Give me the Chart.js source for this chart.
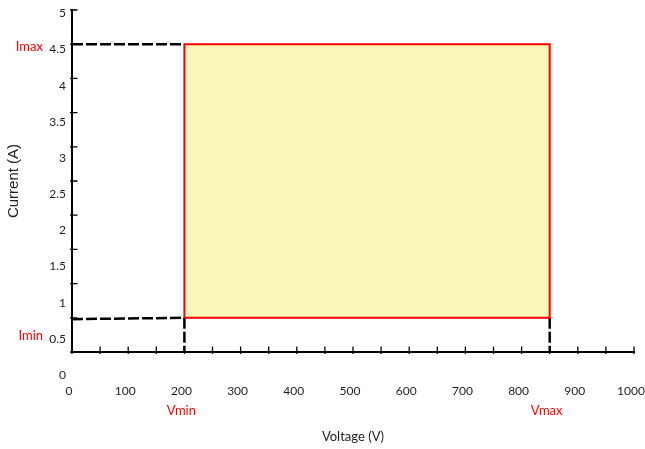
<!DOCTYPE html>
<html>
<head>
<meta charset="utf-8">
<script src="https://cdn.jsdelivr.net/npm/chart.js@4/dist/chart.umd.min.js"></script>
<style>
  html, body { margin: 0; padding: 0; background: #fff; }
</style>
</head>
<body>
<canvas id="c" width="645" height="449"></canvas>
<script>
// Axis tick labels
const voltTicks = [0, 100, 200, 300, 400, 500, 600, 700, 800, 900, 1000];
const currTicks = [0, 0.5, 1, 1.5, 2, 2.5, 3, 3.5, 4, 4.5, 5];

// Operating window limits
const voltage = [200, 850];      // Vmin, Vmax (V)
const current = [0.5, 4.5];      // Imin, Imax (A)
const iminGuide = [0.48, 0.5];   // Imin guide line at V = 0 and at Vmin
const voltNames = ['Vmin', 'Vmax'];
const currNames = ['Imin', 'Imax'];

const textColor = '#1f1f1f';
const limitRed = '#ff0000';
const dash = [11, 3];

// Tick marks crossing the axes plus the red limit labels
const limitMarks = {
  id: 'limitMarks',
  afterDraw(chart) {
    const { ctx, scales: { x, y, yLab } } = chart;
    ctx.save();
    ctx.strokeStyle = '#000';
    ctx.lineWidth = 1.3;
    ctx.beginPath();
    x.ticks.forEach(t => {
      const px = x.getPixelForValue(t.value);
      ctx.moveTo(px, y.bottom - 5.5);
      ctx.lineTo(px, y.bottom + 2);
    });
    y.ticks.forEach(t => {
      const py = y.getPixelForValue(t.value);
      ctx.moveTo(x.left - 2, py);
      ctx.lineTo(x.left + 5.5, py);
    });
    ctx.stroke();

    ctx.fillStyle = limitRed;
    ctx.font = '13px Lato';
    ctx.textBaseline = 'middle';
    ctx.textAlign = 'center';
    voltage.forEach((v, i) => {
      ctx.fillText(voltNames[i], x.getPixelForValue(v) - 3, y.bottom + 59);
    });
    ctx.textAlign = 'right';
    current.forEach((c, i) => {
      ctx.fillText(currNames[i], 43, yLab.getPixelForValue(c) - 3);
    });
    ctx.restore();
  }
};

const guide = (pts) => ({
  data: pts,
  borderColor: '#000',
  borderWidth: 2.5,
  borderDash: dash,
  pointRadius: 0,
  fill: false,
  tension: 0
});

new Chart(document.getElementById('c'), {
  type: 'line',
  data: {
    datasets: [
      // red outline of the operating window
      {
        data: [
          { x: voltage[0], y: current[0] },
          { x: voltage[0], y: current[1] },
          { x: voltage[1], y: current[1] },
          { x: voltage[1], y: current[0] },
          { x: voltage[0], y: current[0] }
        ],
        borderColor: limitRed,
        borderWidth: 2,
        pointRadius: 0,
        fill: false,
        tension: 0
      },
      // dashed guides to the axes
      guide([{ x: 0, y: current[1] }, { x: voltage[0], y: current[1] }]),
      guide([{ x: 0, y: iminGuide[0] }, { x: voltage[0], y: iminGuide[1] }]),
      guide([{ x: voltage[0], y: current[0] }, { x: voltage[0], y: 0 }]),
      guide([{ x: voltage[1], y: current[0] }, { x: voltage[1], y: 0 }]),
      // yellow area
      {
        data: [{ x: voltage[0], y: current[1] }, { x: voltage[1], y: current[1] }],
        borderWidth: 0,
        borderColor: 'rgba(0,0,0,0)',
        backgroundColor: '#faf8b8',
        pointRadius: 0,
        fill: { value: current[0] }
      }
    ]
  },
  options: {
    responsive: false,
    animation: false,
    events: [],
    layout: { padding: { left: 0, right: 11, top: 10, bottom: 0 } },
    plugins: { legend: { display: false }, tooltip: { enabled: false } },
    scales: {
      x: {
        type: 'linear',
        position: 'bottom',
        min: 0,
        max: 1000,
        ticks: {
          stepSize: 50,
          autoSkip: false,
          maxRotation: 0,
          padding: 32,
          labelOffset: -3,
          color: textColor,
          font: { family: 'Lato', size: 12 },
          callback: v => (voltTicks.includes(v) ? String(v) : '')
        },
        grid: { display: false, drawTicks: false },
        border: { display: true, color: '#000', width: 2 },
        title: {
          display: true,
          text: 'Voltage (V)',
          color: textColor,
          font: { family: 'Lato', size: 13 },
          padding: { top: 0, bottom: 4 }
        },
        afterFit: s => { s.height = 97; s.paddingLeft = 0; s.paddingRight = 0; }
      },
      y: {
        type: 'linear',
        position: 'left',
        weight: 0,
        min: 0,
        max: 5,
        ticks: { stepSize: 0.5, display: false },
        grid: { display: false, drawTicks: false },
        border: { display: true, color: '#000', width: 2 },
        afterFit: s => { s.width = 0; s.paddingTop = 0; s.paddingBottom = 0; }
      },
      yLab: {
        type: 'linear',
        position: 'left',
        weight: 1,
        min: 0.318,
        max: 5.046,
        afterBuildTicks: s => { s.ticks = currTicks.map(v => ({ value: v })); },
        ticks: {
          autoSkip: false,
          padding: 6,
          color: textColor,
          font: { family: 'Lato', size: 12 },
          callback: v => String(v)
        },
        grid: { display: false, drawTicks: false },
        border: { display: false },
        title: {
          display: true,
          text: 'Current (A)',
          color: '#222',
          font: { family: 'Liberation Sans', size: 15 },
          padding: { top: 5, bottom: 0 }
        },
        afterFit: s => { s.width = 72; s.paddingTop = 0; s.paddingBottom = 0; }
      }
    }
  },
  plugins: [limitMarks]
});
</script>
</body>
</html>
